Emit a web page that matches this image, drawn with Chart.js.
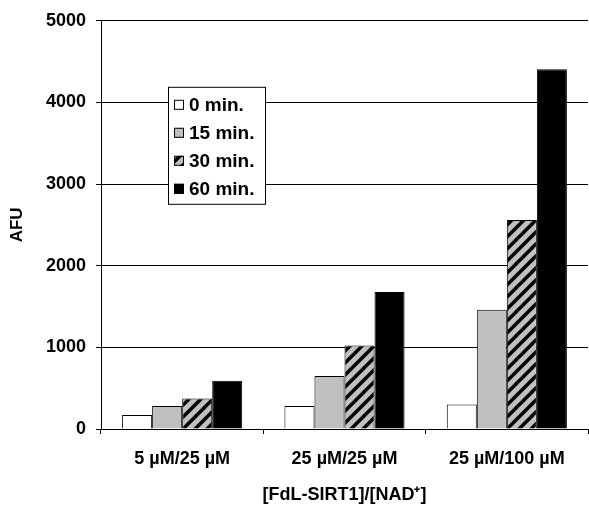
<!DOCTYPE html>
<html>
<head>
<meta charset="utf-8">
<script src="https://cdn.jsdelivr.net/npm/chart.js@4"></script>
<style>
    html, body { margin: 0; padding: 0; background: #fff; }
    #wrap { width: 589px; height: 506px; }
</style>
</head>
<body>
<div id="wrap"><canvas id="afuChart" width="589" height="506"></canvas></div>
<script>
// Datos del gráfico
const categories = ['5 µM/25 µM', '25 µM/25 µM', '25 µM/100 µM'];
const seriesLabels = ['0 min.', '15 min.', '30 min.', '60 min.'];
const min0 = [170, 283, 300];
const min15 = [283, 648, 1460];
const min30 = [373, 1022, 2560];
const min60 = [592, 1679, 4407];
const yTicks = [0, 1000, 2000, 3000, 4000, 5000];

const FONT = '"Liberation Sans", Arial, sans-serif';

// Patrón rayado para la serie de 30 min
function makeHatch() {
    const size = 12;
    const c = document.createElement('canvas');
    c.width = size;
    c.height = size;
    const g = c.getContext('2d');
    g.fillStyle = '#c0c0c0';
    g.fillRect(0, 0, size, size);
    g.strokeStyle = '#000';
    g.lineWidth = 3.5;
    g.beginPath();
    g.moveTo(-2, size + 2); g.lineTo(size + 2, -2);
    g.moveTo(-2 - size, size + 2); g.lineTo(2, -2);
    g.moveTo(size - 2, size + 2); g.lineTo(size * 2 + 2, -2);
    g.stroke();
    return g.createPattern(c, 'repeat');
}

// Leyenda dibujada dentro del área del gráfico
const boxLegend = {
    id: 'boxLegend',
    afterDatasetsDraw(chart) {
        const { ctx, chartArea } = chart;
        const x = chartArea.left + 67;
        const y = chartArea.top + 66;
        const w = 97, h = 117;
        ctx.save();
        ctx.fillStyle = '#fff';
        ctx.fillRect(x, y, w, h);
        ctx.strokeStyle = '#000';
        ctx.lineWidth = 1;
        ctx.strokeRect(x + 0.5, y + 0.5, w, h);
        ctx.font = 'bold 19px ' + FONT;
        ctx.textBaseline = 'middle';
        chart.data.datasets.forEach((ds, i) => {
            const cy = y + 18 + i * 28;
            ctx.fillStyle = ds.backgroundColor;
            ctx.fillRect(x + 6, cy - 5, 10, 10);
            ctx.strokeStyle = '#000';
            ctx.strokeRect(x + 6.5, cy - 4.5, 9, 9);
            ctx.fillStyle = '#000';
            ctx.fillText(ds.label, x + 21, cy + 1);
        });
        ctx.restore();
    }
};

const colors = ['#ffffff', '#c0c0c0', makeHatch(), '#000000'];
const values = [min0, min15, min30, min60];

const ctx = document.getElementById('afuChart').getContext('2d');
const afuChart = new Chart(ctx, {
    type: 'bar',
    data: {
        labels: categories,
        datasets: seriesLabels.map((label, i) => ({
            label: label,
            data: values[i],
            backgroundColor: colors[i],
            borderColor: '#000',
            borderWidth: 1,
            categoryPercentage: 0.74,
            barPercentage: 1
        }))
    },
    options: {
        responsive: false,
        animation: false,
        layout: { padding: { top: 19, right: 1, left: 0, bottom: 0 } },
        plugins: {
            legend: { display: false },
            tooltip: { enabled: false }
        },
        scales: {
            x: {
                afterFit: (scale) => { scale.height = 77; },
                grid: {
                    offset: true,
                    drawOnChartArea: false,
                    drawTicks: true,
                    tickLength: 5,
                    color: '#000'
                },
                border: { color: '#000', width: 1 },
                ticks: {
                    color: '#000',
                    padding: 14,
                    maxRotation: 0,
                    font: { family: FONT, size: 18, weight: 'bold' }
                },
                title: {
                    display: true,
                    text: '[FdL-SIRT1]/[NAD⁺]',
                    color: '#000',
                    padding: { top: 0, bottom: 0 },
                    font: { family: FONT, size: 18, weight: 'bold' }
                }
            },
            y: {
                min: 0,
                max: 5000,
                afterFit: (scale) => { scale.width = 101; },
                afterBuildTicks: (scale) => { scale.ticks = yTicks.map(v => ({ value: v })); },
                grid: {
                    color: '#000',
                    drawTicks: true,
                    tickLength: 5
                },
                border: { color: '#000', width: 1 },
                ticks: {
                    color: '#000',
                    padding: 10,
                    callback: (v) => String(v),
                    font: { family: FONT, size: 18, weight: 'bold' }
                },
                title: {
                    display: true,
                    text: 'AFU',
                    color: '#000',
                    padding: { top: 7, bottom: 0 },
                    font: { family: FONT, size: 17, weight: 'bold' }
                }
            }
        }
    },
    plugins: [boxLegend]
});
</script>
</body>
</html>
